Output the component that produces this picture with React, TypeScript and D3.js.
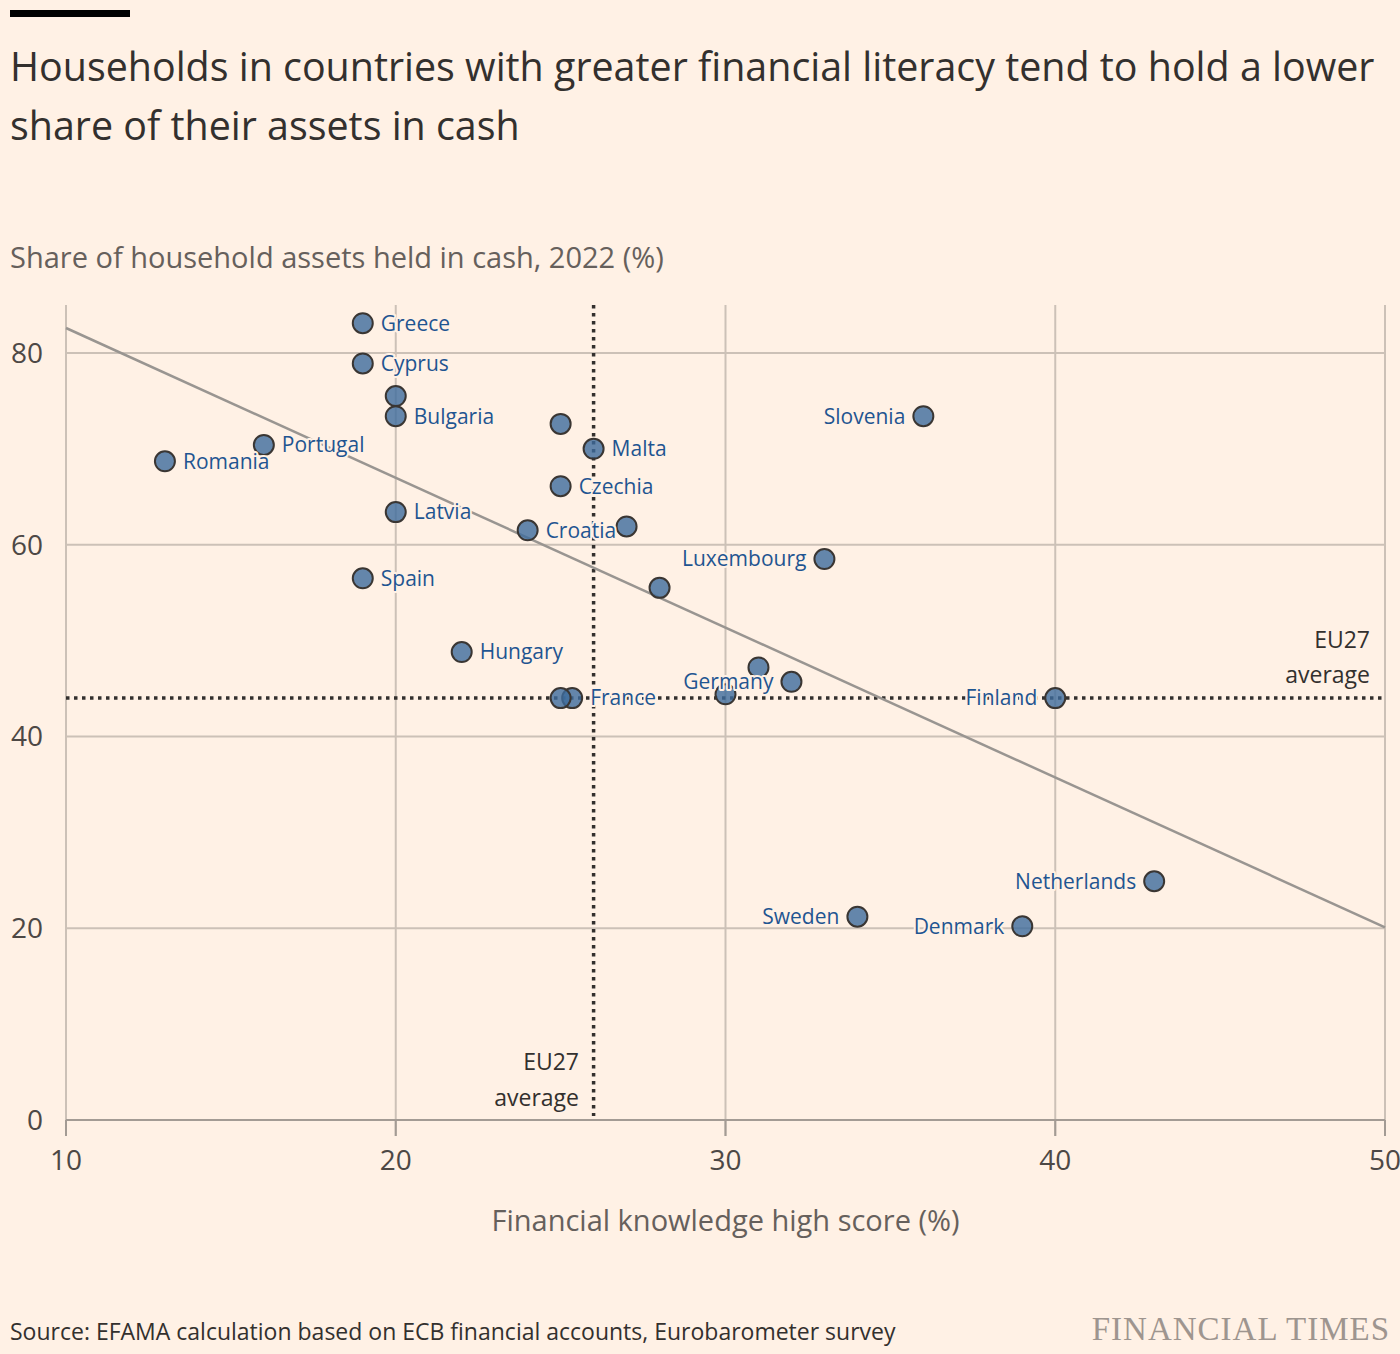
import * as d3 from 'd3';

const countries = ['Greece', 'Cyprus', '', 'Bulgaria', 'Portugal', 'Romania', 'Latvia', 'Spain', 'Hungary', '', 'Malta', 'Czechia', 'Croatia', '', '', 'France', '', '', '', 'Germany', 'Luxembourg', 'Slovenia', 'Finland', 'Netherlands', 'Sweden', 'Denmark'];
const knowledge = [19, 19, 20, 20, 16, 13, 20, 19, 22, 25, 26, 25, 24, 27, 28, 25.35, 25, 30, 31, 32, 33, 36, 40, 43, 34, 39];
const cashShare = [83.1, 78.9, 75.5, 73.4, 70.4, 68.7, 63.4, 56.5, 48.8, 72.6, 70.0, 66.1, 61.5, 61.9, 55.5, 44.0, 44.0, 44.4, 47.2, 45.7, 58.5, 73.4, 44.0, 24.9, 21.2, 20.2];
const labelSide = ['r', 'r', '', 'r', 'r', 'r', 'r', 'r', 'r', '', 'r', 'r', 'r', '', '', 'r', '', '', '', 'l', 'l', 'l', 'l', 'l', 'l', 'l'];

const xTicks = [10, 20, 30, 40, 50];
const yTicks = [0, 20, 40, 60, 80];
const trendX = [10, 50];
const trendY = [82.6, 20.1];
const euAvgKnowledge = 26;
const euAvgCash = 44;

const W = 1400;
const H = 1354;
const BG = '#fff1e5';
const FONT = '"Open Sans", "Noto Sans", sans-serif';

export default function App() {
  const x = d3.scaleLinear().domain([10, 50]).range([66, 1385]);
  const y = d3.scaleLinear().domain([0, 85]).range([1120, 305]);
  const trend = d3.line<number>().x(d => x(trendX[d])).y(d => y(trendY[d]))([0, 1]) || '';

  const points = knowledge.map((k, i) => ({ k, c: cashShare[i], name: countries[i], side: labelSide[i] }));

  return (
    <div style={{ position: 'absolute', left: 0, top: 0, width: W, height: H, overflow: 'hidden' }}>
      <svg width={W} height={H} style={{ display: 'block', background: BG }} fontFamily={FONT}>
        <rect x={10} y={10} width={120} height={7} fill="#000" />
        <text x={10} y={81} fontSize={39.4} fill="#33302e">Households in countries with greater financial literacy tend to hold a lower</text>
        <text x={10} y={140} fontSize={39.4} fill="#33302e">share of their assets in cash</text>
        <text x={10} y={268} fontSize={29} fill="#66605c">Share of household assets held in cash, 2022 (%)</text>

        {/* grid */}
        {yTicks.filter(t => t > 0).map(t => (
          <line key={'gy' + t} x1={x(10)} x2={x(50)} y1={y(t)} y2={y(t)} stroke="#ccc1b7" strokeWidth={2} />
        ))}
        {xTicks.map(t => (
          <line key={'gx' + t} x1={x(t)} x2={x(t)} y1={y(85)} y2={y(0) + 16} stroke="#ccc1b7" strokeWidth={2} />
        ))}
        <line x1={x(10)} x2={x(50)} y1={y(0)} y2={y(0)} stroke="#a39b94" strokeWidth={2} />
        {xTicks.map(t => (
          <line key={'tk' + t} x1={x(t)} x2={x(t)} y1={y(0)} y2={y(0) + 16} stroke="#a39b94" strokeWidth={2} />
        ))}

        {yTicks.map(t => (
          <text key={'ly' + t} x={43} y={y(t)} dy="0.35em" textAnchor="end" fontSize={28} fill="#4d4845">{t}</text>
        ))}
        {xTicks.map(t => (
          <text key={'lx' + t} x={x(t)} y={1170} textAnchor="middle" fontSize={28} fill="#4d4845">{t}</text>
        ))}
        <text x={(x(10) + x(50)) / 2} y={1231} textAnchor="middle" fontSize={29} fill="#66605c">Financial knowledge high score (%)</text>

        {/* averages */}
        <line x1={x(10)} x2={x(50)} y1={y(euAvgCash)} y2={y(euAvgCash)} stroke="#33302e" strokeWidth={3.5} strokeDasharray="3.5,4.5" />
        <line x1={x(euAvgKnowledge)} x2={x(euAvgKnowledge)} y1={y(85)} y2={y(0) - 4} stroke="#33302e" strokeWidth={3.5} strokeDasharray="3.5,4.5" />
        <text x={1370} y={648} textAnchor="end" fontSize={23} fill="#33302e">EU27</text>
        <text x={1370} y={683} textAnchor="end" fontSize={23} fill="#33302e">average</text>
        <text x={579} y={1070} textAnchor="end" fontSize={23} fill="#33302e">EU27</text>
        <text x={579} y={1106} textAnchor="end" fontSize={23} fill="#33302e">average</text>

        <path d={trend} fill="none" stroke="#999591" strokeWidth={2.5} />

        {points.map((p, i) => (
          <circle key={'c' + i} cx={x(p.k)} cy={y(p.c)} r={10} fill="#3d6c9c" fillOpacity={0.8} stroke="#3a3633" strokeWidth={2} />
        ))}
        {points.filter(p => p.name).map((p, i) => (
          <text key={'t' + i}
            x={x(p.k) + (p.side === 'r' ? 18 : -18)} y={y(p.c)} dy="0.35em"
            textAnchor={p.side === 'r' ? 'start' : 'end'} fontSize={21} fill="#1f5591"
            stroke={BG} strokeWidth={4} paintOrder="stroke" strokeLinejoin="round">{p.name}</text>
        ))}

        <text x={10} y={1340} fontSize={23} fill="#33302e">Source: EFAMA calculation based on ECB financial accounts, Eurobarometer survey</text>
        <text x={1390} y={1340} textAnchor="end" fontSize={33} letterSpacing={1} fill="#9e958f" fontFamily='"Liberation Serif", "DejaVu Serif", serif'>FINANCIAL TIMES</text>
      </svg>
    </div>
  );
}
